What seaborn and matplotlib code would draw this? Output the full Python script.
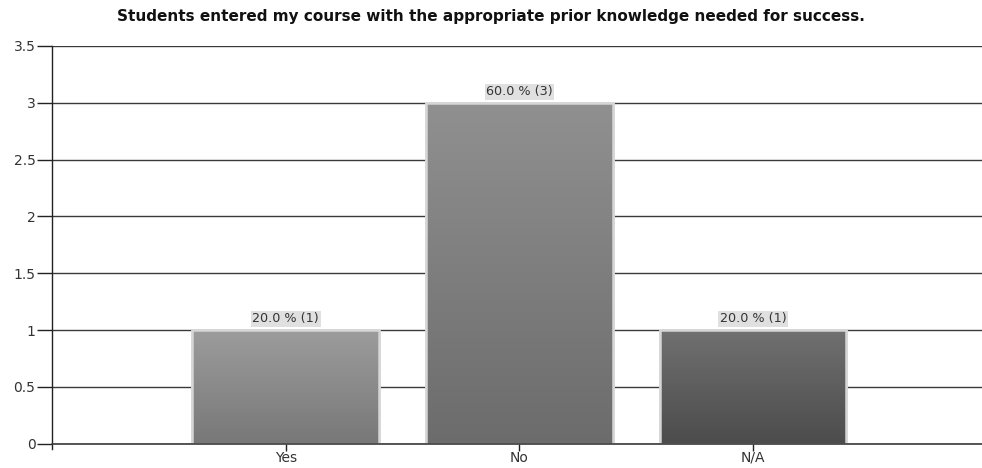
import numpy as np
import matplotlib
matplotlib.use("Agg")
import matplotlib.pyplot as plt
import seaborn as sns
import pandas as pd

categories = ["Yes", "No", "N/A"]
counts = [1, 3, 1]
labels = ["20.0 % (1)", "60.0 % (3)", "20.0 % (1)"]
title = "Students entered my course with the appropriate prior knowledge needed for success."

# gradient colours per bar (top, bottom)
grad = [("#9c9c9c", "#787878"), ("#909090", "#6c6c6c"), ("#707070", "#4c4c4c")]

sns.set_style("white")
plt.rcParams['font.family'] = ['DejaVu Sans']

df = pd.DataFrame({"answer": categories, "count": counts})

fig = plt.figure(figsize=(9.82, 4.68), dpi=100)
ax = fig.add_axes([0.053, 0.052, 0.947, 0.85])

sns.barplot(data=df, x="answer", y="count", ax=ax, color="#888888",
            width=0.8, edgecolor="#d6d6d6", linewidth=1.8, zorder=3)

ax.set_ylim(0, 3.5)
ax.set_xlim(-1, 2.98)
ax.set_yticks([0, 0.5, 1, 1.5, 2, 2.5, 3, 3.5])
ax.set_yticklabels(["0", "0.5", "1", "1.5", "2", "2.5", "3", "3.5"])
ax.yaxis.grid(True, color="#3a3a3a", linewidth=1.0, zorder=0)
ax.set_axisbelow(True)

for s in ["top", "right", "bottom"]:
    ax.spines[s].set_visible(False)
ax.spines["left"].set_color("#222222")
ax.spines["left"].set_linewidth(1.0)
ax.spines["left"].set_bounds(-0.05, 3.5)

ax.tick_params(axis="y", left=True, length=11, width=1, color="#222222",
               labelsize=10, labelcolor="#333333", pad=1)
ax.tick_params(axis="x", bottom=True, length=5, width=1, color="#222222",
               labelsize=10, labelcolor="#333333", pad=0)
ax.set_xlabel("")
ax.set_ylabel("")

# gradient fill and value labels
for i, patch in enumerate(list(ax.patches)):
    x0, y0 = patch.get_x(), patch.get_y()
    w, h = patch.get_width(), patch.get_height()
    top = np.array(matplotlib.colors.to_rgb(grad[i][0]))
    bot = np.array(matplotlib.colors.to_rgb(grad[i][1]))
    t = np.linspace(0, 1, 100)[:, None]
    img = (top * (1 - t) + bot * t)[:, None, :]
    im = ax.imshow(img, extent=[x0, x0 + w, y0, y0 + h], aspect="auto",
                   zorder=3.5, origin="upper")
    im.set_clip_path(patch)
    border = plt.Rectangle((x0, y0), w, h, fill=False, edgecolor="#d6d6d6",
                           linewidth=1.8, zorder=4)
    ax.add_patch(border)
    ax.text(x0 + w / 2, y0 + h + 0.04, labels[i], ha="center", va="bottom",
            fontsize=9.2, color="#333333", zorder=5,
            bbox=dict(boxstyle="square,pad=0.12", facecolor="#e0e0e0",
                      edgecolor="none"))

ax.axhline(0, color="#3a3a3a", linewidth=1.2, zorder=4.5, clip_on=False)

fig.text(0.5, 0.964, title, ha="center", va="center", fontsize=11,
         fontweight="bold", color="#111111")

fig.savefig("out.png", dpi=100)
